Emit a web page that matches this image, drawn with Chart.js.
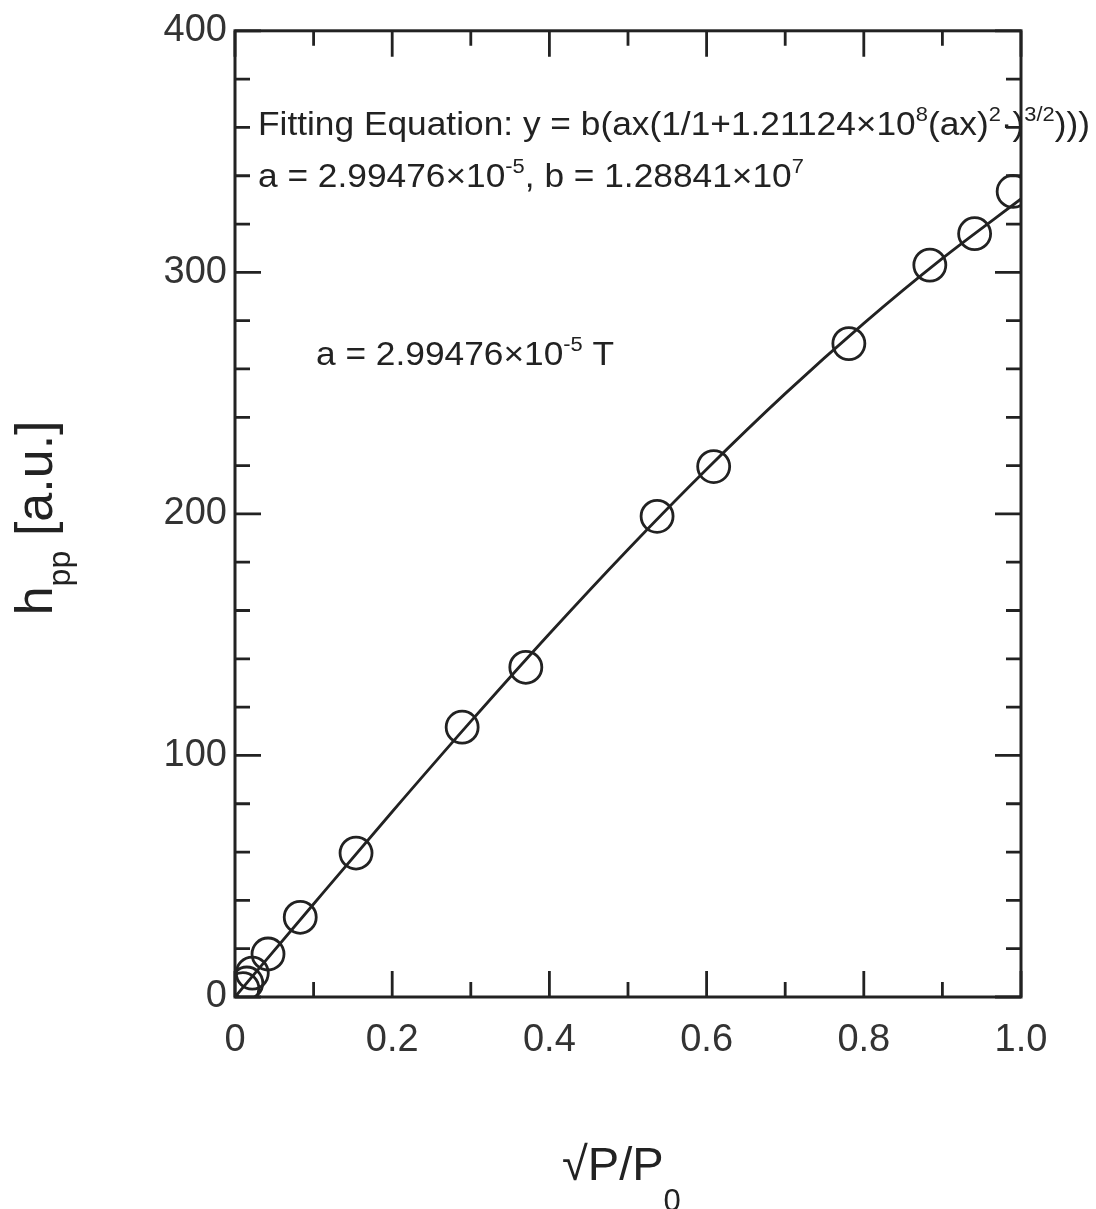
<!DOCTYPE html>
<html>
<head>
<meta charset="utf-8">
<script src="https://cdn.jsdelivr.net/npm/chart.js@4.4.1/dist/chart.umd.min.js"></script>
<style>
  html, body { margin: 0; padding: 0; background: #fff; }
  #wrap { width: 1096px; height: 1209px; position: relative; }
</style>
</head>
<body>
<div id="wrap"><canvas id="chart"></canvas></div>
<script>
// measured points: sqrt(P/P0) vs peak-to-peak height
const sqrtP = [0.010, 0.015, 0.022, 0.042, 0.083, 0.154, 0.289, 0.370, 0.537, 0.609, 0.781, 0.884, 0.941, 0.990];
const hpp   = [3.5, 5.8, 9.9, 17.8, 33, 59.6, 111.7, 136.5, 199, 219.6, 270.5, 303, 316, 333.5];

// fitted curve
const fitX = [0, 0.1, 0.2, 0.3, 0.4, 0.5, 0.6, 0.7, 0.8, 0.9, 1.0];
const fitY = [0, 38.5, 76.7, 114.1, 150.4, 185.3, 218.5, 249.8, 278.9, 305.8, 330.4];

const xMajor = 0.2, xMinor = 0.1;
const yMajor = 100, yMinor = 20;

const ink = '#222';
const fontFamily = '"Liberation Sans", Arial, sans-serif';

// draws text pieces with superscripts / subscripts, returns width
function drawRich(ctx, segs, x, y, size, sx, measureOnly) {
  ctx.save();
  ctx.translate(x, y);
  ctx.scale(sx, 1);
  ctx.fillStyle = ink;
  ctx.textBaseline = 'alphabetic';
  ctx.textAlign = 'left';
  let cx = 0;
  segs.forEach(s => {
    const fs = s.sup || s.sub ? size * (s.scale || 0.62) : size;
    ctx.font = fs + 'px ' + fontFamily;
    let dy = 0;
    if (s.sup) dy = -size * 0.42;
    if (s.sub) dy = size * (s.dy || 0.35);
    if (!measureOnly) ctx.fillText(s.t, cx, dy);
    cx += ctx.measureText(s.t).width;
  });
  ctx.restore();
  return cx * sx;
}

const line1 = [
  { t: 'Fitting Equation: y = b(ax(1/1+1.21124\u00d710' }, { t: '8', sup: true },
  { t: '(ax)' }, { t: '2', sup: true }, { t: '\u00b7)' }, { t: '3/2', sup: true }, { t: ')))' }
];
const line2 = [
  { t: 'a = 2.99476\u00d710' }, { t: '-5', sup: true }, { t: ', b = 1.28841\u00d710' }, { t: '7', sup: true }
];
const line3 = [
  { t: 'a = 2.99476\u00d710' }, { t: '-5', sup: true }, { t: ' T' }
];

const framePlugin = {
  id: 'frameTicks',
  afterDraw(chart) {
    const { ctx, chartArea: a, scales } = chart;
    const xs = scales.x, ys = scales.y;
    ctx.save();
    ctx.strokeStyle = ink;
    ctx.lineWidth = 3;
    ctx.lineCap = 'butt';
    ctx.strokeRect(a.left, a.top, a.right - a.left, a.bottom - a.top);
    ctx.lineWidth = 2.8;
    ctx.beginPath();
    for (let i = 0; i <= Math.round((xs.max - xs.min) / xMinor); i++) {
      const v = xs.min + i * xMinor;
      const major = Math.abs(v / xMajor - Math.round(v / xMajor)) < 1e-6;
      const len = major ? 26 : 15;
      const px = xs.getPixelForValue(v);
      ctx.moveTo(px, a.bottom); ctx.lineTo(px, a.bottom - len);
      ctx.moveTo(px, a.top); ctx.lineTo(px, a.top + len);
    }
    for (let i = 0; i <= Math.round((ys.max - ys.min) / yMinor); i++) {
      const v = ys.min + i * yMinor;
      const major = v % yMajor === 0;
      const len = major ? 26 : 15;
      const py = ys.getPixelForValue(v);
      ctx.moveTo(a.left, py); ctx.lineTo(a.left + len, py);
      ctx.moveTo(a.right, py); ctx.lineTo(a.right - len, py);
    }
    ctx.stroke();
    ctx.restore();

    // annotations
    const size = 33;
    const natural = drawRich(ctx, line1, 0, 0, size, 1, true);
    const sx = (1090 - (a.left + 23)) / natural;
    drawRich(ctx, line1, a.left + 23, ys.getPixelForValue(357), size, sx);
    drawRich(ctx, line2, a.left + 23, ys.getPixelForValue(335.5), size, sx);
    drawRich(ctx, line3, a.left + 81, ys.getPixelForValue(261.5), size, sx);

    // axis titles
    const xTitle = [{ t: '\u221aP/P' }, { t: '0', sub: true, scale: 0.66, dy: 0.66 }];
    const w = drawRich(ctx, xTitle, 0, 0, 47, 1, true);
    drawRich(ctx, xTitle, 562, 1180, 47, 1);

    const yTitle = [{ t: 'h' }, { t: 'pp', sub: true, scale: 0.62, dy: 0.34 }, { t: ' [a.u.]' }];
    const wy = drawRich(ctx, yTitle, 0, 0, 52, 1, true);
    ctx.save();
    ctx.translate(52, (a.top + a.bottom) / 2 + 4);
    ctx.rotate(-Math.PI / 2);
    drawRich(ctx, yTitle, -wy / 2, 0, 52, 1);
    ctx.restore();
  }
};

new Chart(document.getElementById('chart'), {
  type: 'scatter',
  data: {
    datasets: [
      {
        label: 'fit',
        data: fitX.map((x, i) => ({ x, y: fitY[i] })),
        showLine: true,
        borderColor: ink,
        borderWidth: 2.8,
        pointRadius: 0,
        cubicInterpolationMode: 'monotone',
        clip: 0
      },
      {
        label: 'data',
        data: sqrtP.map((x, i) => ({ x, y: hpp[i] })),
        showLine: false,
        pointStyle: 'circle',
        pointRadius: 16,
        borderColor: ink,
        borderWidth: 2.8,
        backgroundColor: 'rgba(0,0,0,0)',
        clip: 0
      }
    ]
  },
  options: {
    responsive: true,
    maintainAspectRatio: false,
    animation: false,
    devicePixelRatio: 1,
    layout: { padding: { left: 0, top: 28, right: 75, bottom: 0 } },
    plugins: {
      legend: { display: false },
      tooltip: { enabled: false }
    },
    scales: {
      x: {
        type: 'linear',
        min: 0,
        max: 1,
        afterFit: s => { s.height = 212; },
        grid: { display: false, drawTicks: false },
        border: { display: false },
        ticks: {
          stepSize: xMajor,
          padding: 21,
          color: '#333',
          font: { family: fontFamily, size: 38 },
          callback: v => v === 0 ? '0' : v.toFixed(1)
        }
      },
      y: {
        type: 'linear',
        min: 0,
        max: 400,
        afterFit: s => { s.width = 235; },
        grid: { display: false, drawTicks: false },
        border: { display: false },
        ticks: {
          stepSize: yMajor,
          padding: 8,
          color: '#333',
          font: { family: fontFamily, size: 38 }
        }
      }
    }
  },
  plugins: [framePlugin]
});
</script>
</body>
</html>
